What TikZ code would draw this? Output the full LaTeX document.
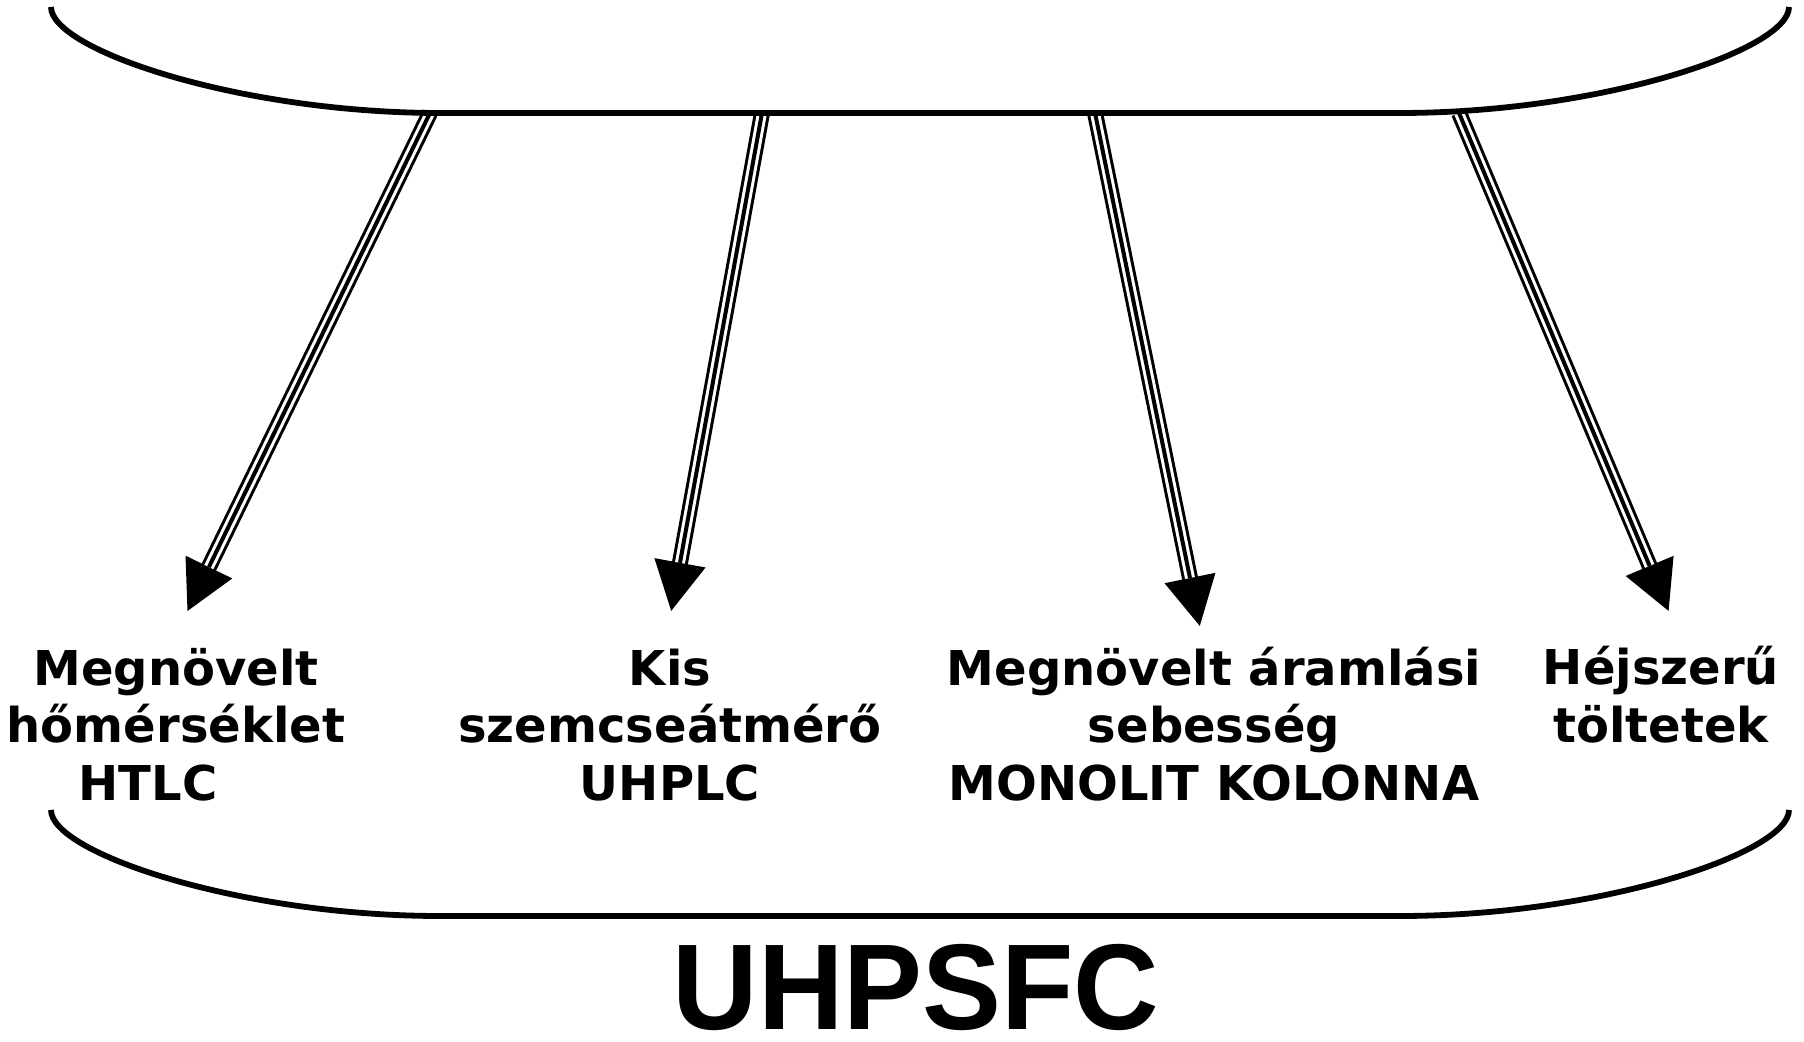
\documentclass[tikz,border=0pt]{standalone}
\usepackage{fontspec}
\setmainfont{DejaVu Sans}
\newfontfamily\bigfont{Liberation Sans}
\usetikzlibrary{arrows.meta}
\begin{document}
\begin{tikzpicture}[x=0.5pt,y=-0.5pt,
  brace/.style={line width=2.9pt, line cap=butt},
  triple/.style={line width=8pt, line cap=butt,
    -{Triangle[length=25pt,width=24pt]},
    postaction={draw=white, line width=5pt, -, shorten >=25pt},
    postaction={draw=black, line width=2pt, -, shorten >=25pt}},
  lbl/.style={font=\bfseries\fontsize{24pt}{28.75pt}\selectfont, align=center, anchor=base, inner sep=0pt},
  title/.style={font=\bigfont\bfseries\fontsize{61pt}{61pt}\selectfont, anchor=base, inner sep=0pt}]
\useasboundingbox (0,0) rectangle (1804,1042);
% arrow end points
\coordinate (s1) at (430,113);
\coordinate (s2) at (762,113);
\coordinate (s3) at (1095,113);
\coordinate (s4) at (1459,113);
\coordinate (t1) at (187,612);
\coordinate (t2) at (671,612);
\coordinate (t3) at (1200,627);
\coordinate (t4) at (1669,612);
% labels (anchor = baseline of the last line)
\node[lbl] (n1) at (176,800) {Megnövelt\\hőmérséklet\\HTLC\hspace*{28pt}};
\node[lbl] (n2) at (670,800) {Kis\\szemcseátmérő\\UHPLC};
\node[lbl] (n3) at (1214,800) {Megnövelt áramlási\\sebesség\\MONOLIT KOLONNA};
\node[lbl] (n4) at (1661,742) {Héjszerű\\töltetek};
\node[title] (t) at (916,1029) {\scalebox{0.97}[1]{UHPSFC}};
% arrows
\draw[triple] (s1) -- (t1);
\draw[triple] (s2) -- (t2);
\draw[triple] (s3) -- (t3);
\draw[triple] (s4) -- (t4);
% braces
\draw[brace] (51,7) .. controls (51,50) and (240,113) .. (440,113) -- (1400,113) .. controls (1600,113) and (1789,50) .. (1789,7);
\draw[brace] (51,810) .. controls (51,853) and (240,916) .. (440,916) -- (1400,916) .. controls (1600,916) and (1789,853) .. (1789,810);
\end{tikzpicture}
\end{document}
